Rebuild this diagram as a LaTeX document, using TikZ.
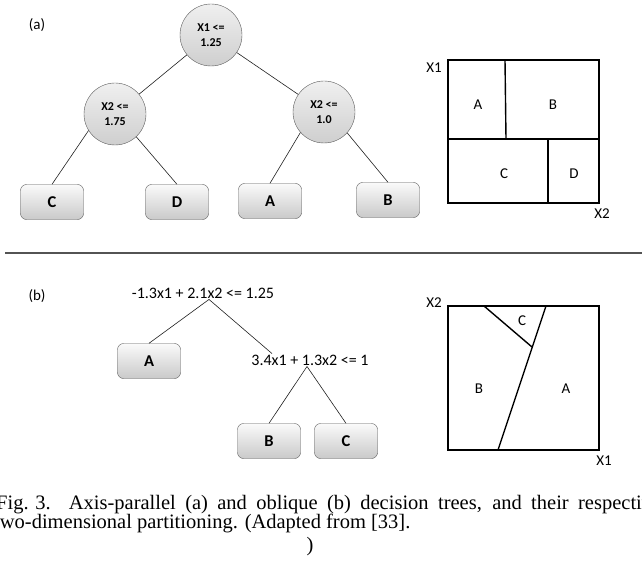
\documentclass[tikz,border=0pt]{standalone}
\usepackage{fontspec}
\setmainfont{Carlito}
\newfontfamily\capfont{Liberation Serif}

\begin{document}
\begin{tikzpicture}[x=1pt, y=-1pt,
	split/.style={circle, draw=gray!70!black, top color=gray!12, bottom color=gray!38, minimum size=62pt, inner sep=0pt, align=center, font=\fontsize{12}{14.5}\selectfont\bfseries},
	leaf/.style={rectangle, rounded corners=6pt, draw=gray!70!black, top color=gray!4, bottom color=gray!42, minimum width=63pt, minimum height=35pt, font=\fontsize{16.5}{18}\selectfont\bfseries},
	rule/.style={font=\fontsize{16}{18}\selectfont, inner sep=1pt},
	lab/.style={font=\fontsize{15}{18}\selectfont, inner sep=0pt},
	branch/.style={draw=gray!25!black, line width=0.6pt},
	part/.style={draw=black, line width=1.4pt},
	caption/.style={anchor=base west, inner sep=0pt, font=\capfont\fontsize{20.5}{22}\selectfont},]

\useasboundingbox (0,0) rectangle (642,572);
\clip (0,0) rectangle (642,572);

% Axis-parallel tree
\node[lab] (ta) at (37,25) {(a)};
\node[split] (r1) at (211,35) {X1 <=\\1.25};
\node[split] (s1) at (115,114) {X2 <=\\1.75};
\node[split] (s2) at (324,112) {X2 <=\\1.0};
\node[leaf] (c1) at (52,202) {C};
\node[leaf] (d1) at (177,202) {D};
\node[leaf] (a1) at (270,201) {A};
\node[leaf] (b1) at (388,200) {B};

\draw[branch] (r1) -- (s1);
\draw[branch] (r1) -- (s2);
\draw[branch] (s1.212) -- (c1.north);
\draw[branch] (s1.-47) -- (d1.north);
\draw[branch] (s2.221) -- (a1.north);
\draw[branch] (s2.-42) -- (b1.north);

% its partitioning
\draw[part] (448,60) rectangle (599,203);
\draw[part] (448,139) -- (599,139);
\draw[part] (505,60) -- (506,139);
\draw[part] (548,139) -- (548,203);
\node[lab] (pa) at (478,105) {A};
\node[lab] (pb) at (553,105) {B};
\node[lab] (pc) at (504,174) {C};
\node[lab] (pd) at (574,174) {D};
\node[lab] (ax1) at (434,68) {X1};
\node[lab] (ax2) at (602,214) {X2};

\draw[line width=1.8pt, gray!65!black] (5,253) -- (642,253);

% Oblique tree
\node[lab] (tb) at (37,296) {(b)};
\node[rule] (q1) at (203,293) {-1.3x1 + 2.1x2 <= 1.25};
\node[leaf] (a2) at (149,361) {A};
\node[rule] (q2) at (310,360) {3.4x1 + 1.3x2 <= 1};
\node[leaf] (b2) at (269,441) {B};
\node[leaf] (c2) at (346,441) {C};

\draw[branch] ([xshift=6pt]q1.south) -- (a2.north);
\draw[branch] ([xshift=6pt]q1.south) -- ([xshift=-38pt]q2.north);
\draw[branch] ([xshift=-3pt]q2.south) -- (b2.north);
\draw[branch] ([xshift=-3pt]q2.south) -- (c2.north);

% its partitioning
\draw[part] (448,306) rectangle (599,450);
\draw[part] (546,306) -- (498,450);
\draw[part] (484,306) -- (532,347);
\node[lab] (qc) at (522,321) {C};
\node[lab] (qb) at (479,389) {B};
\node[lab] (qa) at (566,389) {A};
\node[lab] (bx2) at (434,303) {X2};
\node[lab] (bx1) at (604,461) {X1};

% Caption, cut by the frame as in the scan
\node[caption] (cap1) at (-4,509) {\makebox[665pt][s]{\mbox{Fig. 3.}\hspace{18pt}Axis-parallel (a) and oblique (b) decision trees, and their respective}};
\node[caption] (cap2) at (-6,528) {two-dimensional partitioning. (Adapted from [33].};
\node[caption, anchor=base] (cap3) at (310,551) {)};

\end{tikzpicture}
\end{document}
